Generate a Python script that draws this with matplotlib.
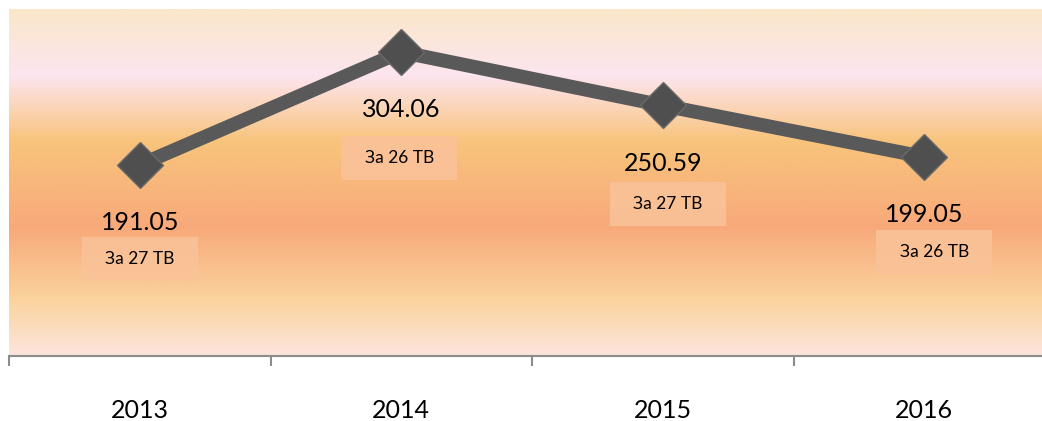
import numpy as np
import matplotlib
matplotlib.use("Agg")
import matplotlib.pyplot as plt
from matplotlib.colors import LinearSegmentedColormap
from matplotlib.patches import Rectangle
from matplotlib.transforms import IdentityTransform

years = ["2013", "2014", "2015", "2016"]
values = [191.05, 304.06, 250.59, 199.05]
notes = ["За 27 ТВ", "За 26 ТВ", "За 27 ТВ", "За 26 ТВ"]

# label box offsets in pixels (dx, dy) from the point, tuned by eye
box_offsets = [(0, -94), (-2, -106), (5, -99), (10, -95)]
box_w, box_h = 116, 44

plt.rcParams['font.family'] = ['Lato', 'DejaVu Sans']

fig = plt.figure(figsize=(10.42, 4.21), dpi=100)
ax = fig.add_axes([9 / 1042, (421 - 356) / 421, 1046 / 1042, 347 / 421])

x = np.arange(len(years))
ax.set_xlim(-0.5, len(years) - 0.5)
ax.set_ylim(0, 347)

# background gradient (top -> bottom)
stops = [
    (0.00, "#FAE7C9"),
    (0.19, "#FDE5EF"),
    (0.38, "#F8C47C"),
    (0.63, "#F8A97A"),
    (0.84, "#FAD39D"),
    (1.00, "#FDE4DE"),
]
cmap = LinearSegmentedColormap.from_list("bg", stops)
grad = np.linspace(0, 1, 400).reshape(-1, 1)
ax.imshow(grad, cmap=cmap, aspect="auto", extent=(-0.5, len(years) - 0.5, 0, 347),
          origin="upper", zorder=0)

ax.plot(x, values, color="#595959", lw=10, solid_capstyle="butt", zorder=3)
ax.plot(x, values, ls="none", marker="D", markersize=23.5, markerfacecolor="#4f4f4f",
        markeredgecolor="#6a6a6a", markeredgewidth=1, zorder=4)

px = 72 / 100
for i, v in enumerate(values):
    ax.annotate(f"{v:.2f}", (x[i], v), xytext=(0, -58 * px), textcoords="offset points",
                ha="center", va="center", fontsize=18, color="black", zorder=5)
    dx, dy = box_offsets[i]
    cx, cy = ax.transData.transform((x[i], v))
    ax.add_patch(Rectangle((cx + dx - box_w / 2, cy + dy - box_h / 2), box_w, box_h,
                           transform=IdentityTransform(), fc="#FAC298", ec="none",
                           alpha=0.9, zorder=4, clip_on=False))
    ax.annotate(notes[i], (x[i], v), xytext=(dx * px, dy * px), textcoords="offset points",
                ha="center", va="center", fontsize=12.5, color="black", zorder=6)

for s in ["left", "right", "top"]:
    ax.spines[s].set_visible(False)
ax.spines["bottom"].set_color("#8c8c8c")
ax.spines["bottom"].set_linewidth(1.5)

ax.set_yticks([])
ax.set_xticks(x)
ax.set_xticklabels(years, fontsize=18)
ax.tick_params(axis="x", which="major", length=0, pad=31)
ax.set_xticks(np.arange(-0.5, len(years), 1), minor=True)
ax.tick_params(axis="x", which="minor", length=7, width=1.5, color="#8c8c8c", direction="out")

fig.savefig("out.png", dpi=100)
